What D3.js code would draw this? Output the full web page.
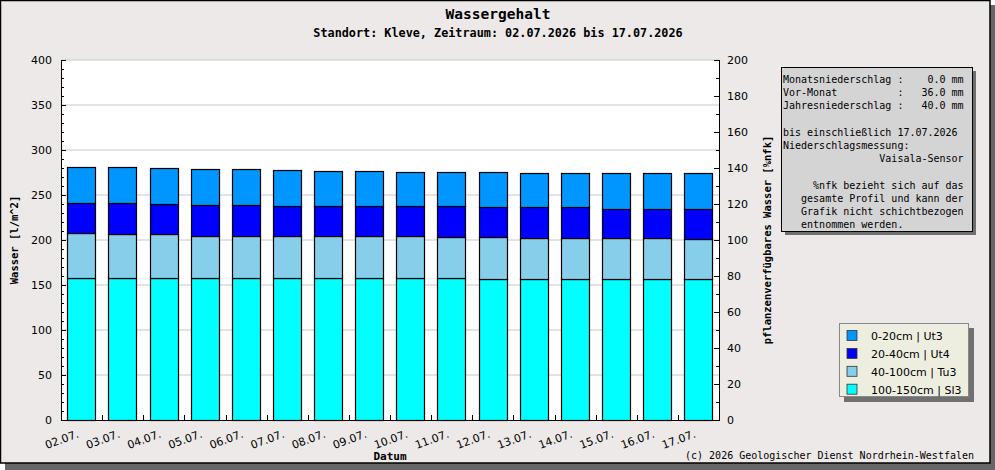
<!DOCTYPE html>
<html>
<head>
<meta charset="utf-8">
<script src="https://cdn.jsdelivr.net/npm/d3@7"></script>
<style>
body { margin: 0; background: #ffffff; }
svg { display: block; }
.mono { font-family: "DejaVu Sans Mono", monospace; }
.sans { font-family: "DejaVu Sans", sans-serif; }
</style>
</head>
<body>
<div id="chart"></div>
<script>
// chart data
var dates = ["02.07.", "03.07.", "04.07.", "05.07.", "06.07.", "07.07.", "08.07.", "09.07.",
             "10.07.", "11.07.", "12.07.", "13.07.", "14.07.", "15.07.", "16.07.", "17.07."];

// water content per layer [l/m^2], bottom layer first
var layer100_150 = [157.5, 157.5, 157.5, 157.5, 157.5, 157.5, 157.5, 157.5, 157.5, 157.5, 156.5, 156.5, 156.5, 156.5, 156.5, 156.5];
var layer40_100  = [50, 49, 49, 47.5, 46.5, 46.5, 46.5, 46.5, 46.5, 45.5, 46.5, 46, 46, 46, 46, 45];
var layer20_40   = [33.5, 34.5, 33.5, 34, 35, 33.5, 33.5, 33.5, 33.5, 34.5, 33.5, 34, 34, 32.5, 32.5, 32.5];
var layer0_20    = [40, 40, 40, 40, 40, 40, 39.5, 39.5, 38.5, 38.5, 39.5, 38.5, 38.5, 40, 39, 40];

var layerNames = ["100-150cm | Sl3", "40-100cm | Tu3", "20-40cm | Ut4", "0-20cm | Ut3"];
var layerColors = ["#00ffff", "#87ceeb", "#0000ff", "#0096ff"];

var leftTicks = [0, 50, 100, 150, 200, 250, 300, 350, 400];
var rightTicks = [0, 20, 40, 60, 80, 100, 120, 140, 160, 180, 200];

var infoLines = [
    "Monatsniederschlag :    0.0 mm",
    "Vor-Monat          :   36.0 mm",
    "Jahresniederschlag :   40.0 mm",
    "",
    "bis einschließlich 17.07.2026",
    "Niederschlagsmessung:",
    "                Vaisala-Sensor",
    "",
    "     %nfk bezieht sich auf das",
    "   gesamte Profil und kann der",
    "   Grafik nicht schichtbezogen",
    "   entnommen werden."
];

// layout
var W = 995, H = 470;
var plot = {left: 61, right: 719, top: 60, bottom: 420};

var svg = d3.select('div#chart')
    .append('svg')
    .attr('width', W)
    .attr('height', H);

// frame with shadow
svg.append('rect').attr('x', 5).attr('y', 5).attr('width', 990).attr('height', 465).attr('fill', '#666666');
svg.append('rect').attr('x', 0.5).attr('y', 0.5).attr('width', 989.5).attr('height', 462.5)
    .attr('fill', '#ece9e8').attr('stroke', '#000').attr('stroke-width', 1.5);

// titles
svg.append('text').attr('class', 'mono').attr('x', 498).attr('y', 19)
    .attr('text-anchor', 'middle').attr('font-size', 14.5).attr('font-weight', 'bold')
    .text('Wassergehalt');
svg.append('text').attr('class', 'mono').attr('x', 498).attr('y', 37)
    .attr('text-anchor', 'middle').attr('font-size', 11.8).attr('font-weight', 'bold')
    .text('Standort: Kleve, Zeitraum: 02.07.2026 bis 17.07.2026');

// scales
var x = d3.scaleBand()
    .domain(dates)
    .range([plot.left, plot.right])
    .paddingInner(0.31)
    .paddingOuter(0.155);
var step = (plot.right - plot.left) / dates.length;

var y = d3.scaleLinear().domain([0, 400]).range([plot.bottom, plot.top]);
var y2 = d3.scaleLinear().domain([0, 200]).range([plot.bottom, plot.top]);

// plot background
svg.append('rect')
    .attr('x', plot.left).attr('y', plot.top)
    .attr('width', plot.right - plot.left).attr('height', plot.bottom - plot.top)
    .attr('fill', '#ffffff');

// gridlines
svg.append('g')
    .selectAll('line')
    .data(leftTicks.slice(1))
    .enter()
    .append('line')
    .attr('x1', plot.left).attr('x2', plot.right)
    .attr('y1', function(d) {return y(d);})
    .attr('y2', function(d) {return y(d);})
    .attr('stroke', '#c8c8c8').attr('stroke-width', 1);

// stacked bars
var table = dates.map(function(d, i) {
    return {date: d, l0: layer100_150[i], l1: layer40_100[i], l2: layer20_40[i], l3: layer0_20[i]};
});
var stack = d3.stack().keys(['l0', 'l1', 'l2', 'l3']);
var series = stack(table);

svg.append('g')
    .selectAll('g')
    .data(series)
    .enter()
    .append('g')
    .attr('fill', function(d, i) {return layerColors[i];})
    .selectAll('rect')
    .data(function(d) {return d;})
    .enter()
    .append('rect')
    .attr('x', function(d) {return Math.round(x(d.data.date)) + 0.5;})
    .attr('y', function(d) {return Math.round(y(d[1])) + 0.5;})
    .attr('width', Math.round(x.bandwidth()))
    .attr('height', function(d) {return Math.round(y(d[0])) - Math.round(y(d[1]));})
    .attr('stroke', '#000').attr('stroke-width', 1.2);

// left axis
var leftAxis = d3.axisLeft(y)
    .tickValues(leftTicks)
    .tickSize(0)
    .tickPadding(9);
var gl = svg.append('g').attr('transform', 'translate(' + plot.left + ',0)').call(leftAxis);
gl.select('.domain').remove();
gl.selectAll('text').attr('class', 'sans').attr('font-size', 11).attr('fill', '#000');

var gy = svg.append('g');
gy.selectAll('line.minor')
    .data(d3.range(0, 401, 10))
    .enter()
    .append('line')
    .attr('x1', plot.left)
    .attr('x2', function(d) {return plot.left + (d % 50 == 0 ? 5 : 3);})
    .attr('y1', function(d) {return Math.round(y(d)) + 0.5;})
    .attr('y2', function(d) {return Math.round(y(d)) + 0.5;})
    .attr('stroke', '#000');

// right axis
var rightAxis = d3.axisRight(y2)
    .tickValues(rightTicks)
    .tickSize(0)
    .tickPadding(8);
var gr = svg.append('g').attr('transform', 'translate(' + plot.right + ',0)').call(rightAxis);
gr.select('.domain').remove();
gr.selectAll('text').attr('class', 'sans').attr('font-size', 11).attr('fill', '#000');

gy.selectAll('line.rminor')
    .data(d3.range(0, 201, 10))
    .enter()
    .append('line')
    .attr('x1', plot.right)
    .attr('x2', function(d) {return plot.right - (d % 20 == 0 ? 5 : 3);})
    .attr('y1', function(d) {return Math.round(y2(d)) + 0.5;})
    .attr('y2', function(d) {return Math.round(y2(d)) + 0.5;})
    .attr('stroke', '#000');

// axis lines
svg.append('line').attr('x1', plot.left + 0.5).attr('x2', plot.left + 0.5)
    .attr('y1', plot.top).attr('y2', plot.bottom).attr('stroke', '#000');
svg.append('line').attr('x1', plot.right + 0.5).attr('x2', plot.right + 0.5)
    .attr('y1', plot.top).attr('y2', plot.bottom + 0.5).attr('stroke', '#000');
svg.append('line').attr('x1', plot.left).attr('x2', plot.right + 1)
    .attr('y1', plot.bottom + 0.5).attr('y2', plot.bottom + 0.5).attr('stroke', '#000');

// x ticks between bars
gy.selectAll('line.xt')
    .data(d3.range(1, dates.length))
    .enter()
    .append('line')
    .attr('x1', function(i) {return Math.round(plot.left + i * step) + 0.5;})
    .attr('x2', function(i) {return Math.round(plot.left + i * step) + 0.5;})
    .attr('y1', plot.bottom).attr('y2', plot.bottom - 5)
    .attr('stroke', '#000');

// x labels, rotated
svg.append('g')
    .selectAll('text')
    .data(dates)
    .enter()
    .append('text')
    .attr('class', 'sans')
    .attr('font-size', 11)
    .attr('text-anchor', 'end')
    .attr('transform', function(d) {
        return 'translate(' + (x(d) + x.bandwidth() / 2 - 2) + ',437) rotate(-20)';
    })
    .text(function(d) {return d;});

// axis titles
svg.append('text').attr('class', 'mono').attr('font-size', 10.5).attr('font-weight', 'bold')
    .attr('text-anchor', 'middle').attr('transform', 'translate(18,240) rotate(-90)')
    .text('Wasser [l/m^2]');
svg.append('text').attr('class', 'mono').attr('font-size', 10.5).attr('font-weight', 'bold')
    .attr('text-anchor', 'middle').attr('transform', 'translate(771,240) rotate(-90)')
    .text('pflanzenverfügbares Wasser [%nfk]');
svg.append('text').attr('class', 'mono').attr('font-size', 11).attr('font-weight', 'bold')
    .attr('text-anchor', 'middle').attr('x', 390).attr('y', 460)
    .text('Datum');
svg.append('text').attr('class', 'mono').attr('font-size', 10)
    .attr('text-anchor', 'end').attr('x', 974).attr('y', 459)
    .text('(c) 2026 Geologischer Dienst Nordrhein-Westfalen');

// info box
svg.append('rect').attr('x', 785).attr('y', 71).attr('width', 191).attr('height', 164).attr('fill', '#707070');
svg.append('rect').attr('x', 781.5).attr('y', 67.5).attr('width', 191).attr('height', 164)
    .attr('fill', '#d4d4d4').attr('stroke', '#000');
svg.append('g')
    .selectAll('text')
    .data(infoLines)
    .enter()
    .append('text')
    .attr('class', 'mono')
    .attr('font-size', 10)
    .attr('x', 783)
    .attr('y', function(d, i) {return 83 + i * 13.2;})
    .style('white-space', 'pre')
    .text(function(d) {return d;});

// legend
var legendOrder = [3, 2, 1, 0];
svg.append('rect').attr('x', 844).attr('y', 328).attr('width', 130).attr('height', 74).attr('fill', '#707070');
svg.append('rect').attr('x', 839.5).attr('y', 323.5).attr('width', 129).attr('height', 73)
    .attr('fill', '#eeeee0').attr('stroke', '#888');
var lg = svg.append('g')
    .selectAll('g')
    .data(legendOrder)
    .enter()
    .append('g')
    .attr('transform', function(d, i) {return 'translate(847,' + (330.5 + i * 17.9) + ')';});
lg.append('rect').attr('width', 10).attr('height', 10)
    .attr('fill', function(d) {return layerColors[d];})
    .attr('stroke', '#333').attr('stroke-width', 0.8);
lg.append('text').attr('class', 'sans').attr('font-size', 11)
    .attr('x', 24).attr('y', 9.5)
    .text(function(d) {return layerNames[d];});
</script>
</body>
</html>
